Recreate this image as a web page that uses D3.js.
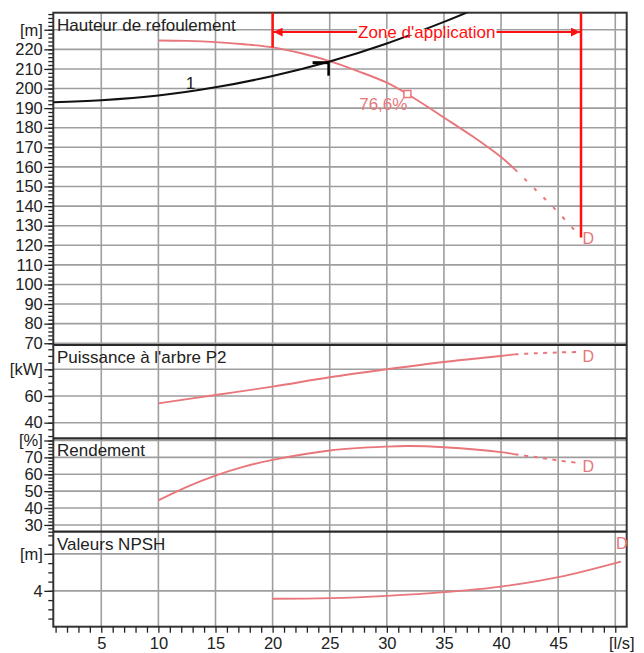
<!DOCTYPE html>
<html>
<head>
<meta charset="utf-8">
<script src="https://cdn.jsdelivr.net/npm/d3@7"></script>
<style>
  body { margin: 0; background: #fff; }
  text { font-family: "Liberation Sans", Arial, sans-serif; }
</style>
</head>
<body>
<svg id="chart-area"></svg>
<script>
/*
*    courbes pompe - hauteur / puissance / rendement / NPSH
*/

// data: [debit l/s, valeur]
var hauteur      = [[10,224.5],[12.5,224.3],[15,223.7],[17.5,222.6],[20,221],[22.5,218],[25,214],[27.5,208.8],[30,203],[31.8,197.2],[35,185.2],[37.5,175.6],[40,165],[41.2,158.8]];
var hauteurExt   = [[41.2,158.8],[43,148.5],[45,136.8],[47,124]];
var systeme      = [[0.8,193],[5,194],[10,196.4],[15,200.6],[20,206.4],[25,213.8],[30,223],[35,234],[37.5,240]];
var puissance    = [[10,54.5],[15,60.7],[20,67],[25,74],[30,80],[35,85.5],[40,90],[41.2,91.2]];
var puissanceExt = [[41.2,91.2],[43,92],[45,92.6],[47,93]];
var rendement    = [[10,44.6],[12.5,52.6],[15,59.2],[17.5,64.5],[20,68.5],[25,74.1],[30,76.4],[32,76.7],[35,76],[40,73.1],[41.2,71.8]];
var rendementExt = [[41.2,71.8],[43,70.2],[45,68.2],[47,66.5]];
var npsh         = [[20,3.14],[25,3.21],[30,3.46],[35,3.86],[40,4.46],[45,5.48],[50.5,7.17]];

// points / zone
var pointFonct  = [24.9, 213.7];
var pointRend   = [31.8, 197.2];
var labelRend   = "76,6%";
var zone        = [20, 47];
var zoneFleche  = 228.8;
var labelZone   = "Zone d'application";
var labelCourbe = [12.8, 202.8, "1"];

// ticks
var xTicks      = d3.range(1, 51);
var xUnit       = "[l/s]";

var W = 644, H = 653;
var frame = { left: 53.3, right: 626.7, top: 12.7, bottom: 626.7 };
var rose = "#e8767b", rouge = "#ff1010", grille = "#9e9e9e", encre = "#222";

// panels layout
var panels = [
  { title: "Hauteur de refoulement", unit: "[m]",  unitAt: 230, top: 12.7,  bottom: 345,   domain: [69.1, 238.7], minor: 2, major: 10,
    solid: hauteur,   ext: hauteurExt,   dash: "3.5,10", dLab: { dx: 1.5, dy: 6.5 } },
  { title: "Puissance à l'arbre P2", unit: "[kW]", unitAt: 80,  top: 345,   bottom: 438.3, domain: [28.3, 98.2],  minor: 5, major: 20,
    solid: puissance, ext: puissanceExt, dash: "4,5.5",  dLab: { dx: 1.5, dy: 10 } },
  { title: "Rendement",              unit: "[%]",  unitAt: 80,  top: 438.3, bottom: 531.7, domain: [26, 81.3],    minor: 2, major: 10,
    solid: rendement, ext: rendementExt, dash: "4,5.5",  dLab: { dx: 1.5, dy: 8.7 } },
  { title: "Valeurs NPSH",           unit: "[m]",  unitAt: 8,   top: 531.7, bottom: 626.7, domain: [0.12, 10.4],  minor: 1, major: 4,
    solid: npsh,      ext: null,         dash: null,     dLab: { dx: -5, dy: -12.7 } }
];

var svg = d3.select("#chart-area").attr("width", W).attr("height", H);

// x scale
var x = d3.scaleLinear().domain([0.8, 51]).range([frame.left, frame.right]);

var defs = svg.append("defs");
defs.append("marker")
    .attr("id", "fleche")
    .attr("viewBox", "0 0 10 10")
    .attr("refX", 10).attr("refY", 5)
    .attr("markerUnits", "userSpaceOnUse")
    .attr("markerWidth", 10).attr("markerHeight", 9)
    .attr("orient", "auto-start-reverse")
  .append("path")
    .attr("d", "M0,0 L10,5 L0,10 z")
    .attr("fill", rouge);

// vertical grid
svg.append("g").selectAll("line")
  .data(xTicks.filter(function(d){ return d % 5 === 0; }))
  .enter().append("line")
    .attr("x1", function(d){ return x(d); }).attr("x2", function(d){ return x(d); })
    .attr("y1", frame.top).attr("y2", frame.bottom)
    .attr("stroke", grille).attr("stroke-width", 1.6);

panels.forEach(function(p, i){
  p.y = d3.scaleLinear().domain(p.domain).range([p.bottom, p.top]);

  function range(step){
    return d3.range(Math.ceil(p.domain[0] / step) * step, p.domain[1] + 0.001, step);
  }

  // horizontal grid
  svg.append("g").selectAll("line")
    .data(range(p.major))
    .enter().append("line")
      .attr("x1", frame.left).attr("x2", frame.right)
      .attr("y1", function(d){ return p.y(d); }).attr("y2", function(d){ return p.y(d); })
      .attr("stroke", grille).attr("stroke-width", 1.6);

  // y axis (minor + major)
  var gMinor = svg.append("g")
      .attr("transform", "translate(" + frame.left + ",0)")
      .call(d3.axisLeft(p.y).tickValues(range(p.minor)).tickSize(5).tickFormat(""));
  var gMajor = svg.append("g")
      .attr("transform", "translate(" + frame.left + ",0)")
      .call(d3.axisLeft(p.y).tickValues(range(p.major)).tickSize(9).tickPadding(1.5)
        .tickFormat(function(d){ return d === p.unitAt ? p.unit : d; }));
  [gMinor, gMajor].forEach(function(g){
    g.select(".domain").remove();
    g.selectAll("line").attr("stroke", encre).attr("stroke-width", 1.3);
    g.selectAll("text").attr("fill", encre).style("font-size", "16.5px")
      .style("font-family", "'Liberation Sans', Arial, sans-serif");
  });

  // clip
  defs.append("clipPath").attr("id", "clip" + i)
    .append("rect")
      .attr("x", frame.left).attr("y", p.top)
      .attr("width", frame.right - frame.left).attr("height", p.bottom - p.top);
});

// frame + separators
svg.append("rect")
    .attr("x", frame.left).attr("y", frame.top)
    .attr("width", frame.right - frame.left).attr("height", frame.bottom - frame.top)
    .attr("fill", "none").attr("stroke", "#333").attr("stroke-width", 2);
svg.append("g").selectAll("line")
  .data(panels.slice(1))
  .enter().append("line")
    .attr("x1", frame.left).attr("x2", frame.right)
    .attr("y1", function(p){ return p.top; }).attr("y2", function(p){ return p.top; })
    .attr("stroke", "#2a2a2a").attr("stroke-width", 2.2);

// x axis
var xAxisGroup = svg.append("g")
    .attr("transform", "translate(0," + frame.bottom + ")")
    .call(d3.axisBottom(x).tickValues(xTicks).tickSize(6).tickPadding(5)
      .tickFormat(function(d){ return d % 5 !== 0 ? "" : (d === 50 ? xUnit : d); }));
xAxisGroup.select(".domain").remove();
xAxisGroup.selectAll("line").attr("stroke", encre).attr("stroke-width", 1.3);
xAxisGroup.selectAll("text").attr("fill", encre).style("font-size", "16.5px")
    .style("font-family", "'Liberation Sans', Arial, sans-serif");
xAxisGroup.selectAll("text").filter(function(d){ return d === 50; }).attr("dx", 6);

// titles
svg.append("g").selectAll("text")
  .data(panels)
  .enter().append("text")
    .attr("x", 57)
    .attr("y", function(p){ return p.top + 18; })
    .attr("fill", encre)
    .attr("font-size", "17px")
    .text(function(p){ return p.title; });

// curves
panels.forEach(function(p, i){
  var line = d3.line()
      .x(function(d){ return x(d[0]); })
      .y(function(d){ return p.y(d[1]); })
      .curve(d3.curveCatmullRom.alpha(0.5));
  var g = svg.append("g").attr("clip-path", "url(#clip" + i + ")");
  g.append("path").datum(p.solid)
      .attr("d", line).attr("fill", "none")
      .attr("stroke", rose).attr("stroke-width", 1.9);
  if (p.ext) {
    g.append("path").datum(p.ext)
        .attr("d", line).attr("fill", "none")
        .attr("stroke", rose).attr("stroke-width", 2)
        .attr("stroke-dasharray", p.dash);
  }
  if (i === 0) {
    g.append("path").datum(systeme)
        .attr("d", line).attr("fill", "none")
        .attr("stroke", "#111").attr("stroke-width", 2);
  }
  // "D" end label
  var last = (p.ext || p.solid)[(p.ext || p.solid).length - 1];
  svg.append("text")
      .attr("x", x(last[0]) + p.dLab.dx)
      .attr("y", p.y(last[1]) + p.dLab.dy)
      .attr("fill", rose)
      .attr("font-size", "16px")
      .text("D");
});

var yH = panels[0].y;

// zone d'application
var hAt = function(serie, q){
  var f = serie.filter(function(d){ return d[0] === q; });
  return f[0][1];
};
var zoneBas = [hAt(hauteur, zone[0]), hAt(hauteurExt, zone[1])];
svg.append("g").selectAll("line")
  .data(zone)
  .enter().append("line")
    .attr("x1", function(d){ return x(d); }).attr("x2", function(d){ return x(d); })
    .attr("y1", frame.top)
    .attr("y2", function(d, i){ return yH(zoneBas[i]); })
    .attr("stroke", rouge).attr("stroke-width", 2.5);
svg.append("line")
    .attr("x1", x(zone[0]) + 1).attr("x2", x(zone[1]) - 1)
    .attr("y1", yH(zoneFleche)).attr("y2", yH(zoneFleche))
    .attr("stroke", rouge).attr("stroke-width", 2)
    .attr("marker-start", "url(#fleche)")
    .attr("marker-end", "url(#fleche)");
var zoneBg = svg.append("rect").attr("fill", "#fff");
var zoneTxt = svg.append("text")
    .attr("x", x((zone[0] + zone[1]) / 2))
    .attr("y", yH(zoneFleche))
    .attr("dy", "0.36em")
    .attr("text-anchor", "middle")
    .attr("fill", rouge)
    .attr("font-size", "17px")
    .text(labelZone);
var bb = zoneTxt.node().getBBox();
zoneBg.attr("x", bb.x - 1).attr("y", yH(zoneFleche) - 3).attr("width", bb.width + 2).attr("height", 6);

// system curve label
svg.append("text")
    .attr("x", x(labelCourbe[0]))
    .attr("y", yH(labelCourbe[1]))
    .attr("dy", "0.36em")
    .attr("text-anchor", "middle")
    .attr("fill", encre)
    .attr("font-size", "17px")
    .text(labelCourbe[2]);

// operating point
var px = x(pointFonct[0]), py = yH(pointFonct[1]);
svg.append("path")
    .attr("d", "M" + (px - 16) + "," + (py + 1) + "H" + px)
    .attr("stroke", "#000").attr("stroke-width", 3);
svg.append("path")
    .attr("d", "M" + px + "," + py + "V" + (py + 14))
    .attr("stroke", "#000").attr("stroke-width", 2.5);

// best efficiency marker
var rx = x(pointRend[0]), ry = yH(pointRend[1]);
svg.append("rect")
    .attr("x", rx - 3.5).attr("y", ry - 3.5)
    .attr("width", 7).attr("height", 7)
    .attr("fill", "#fff").attr("stroke", rose).attr("stroke-width", 1.5);
svg.append("text")
    .attr("x", rx)
    .attr("y", ry + 16)
    .attr("text-anchor", "end")
    .attr("fill", rose)
    .attr("font-size", "17px")
    .text(labelRend);
</script>
</body>
</html>
